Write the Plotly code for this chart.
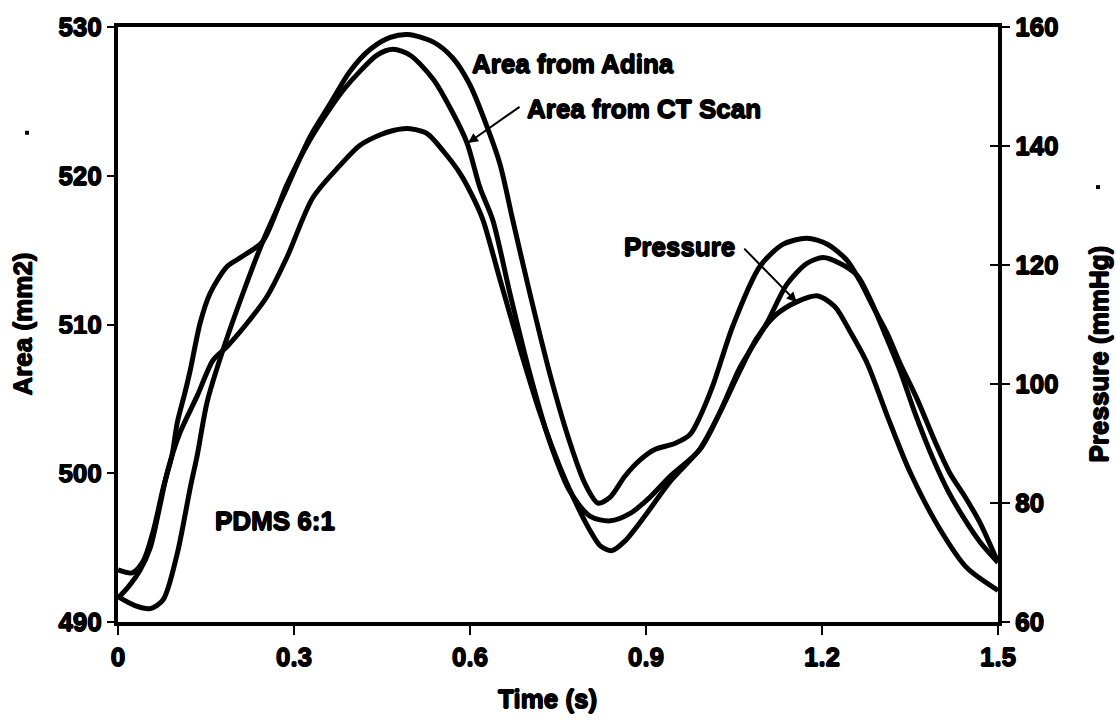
import plotly.graph_objects as go

# Time axis (s) and area curves (mm2)
adina_t = [0, 0.029, 0.055, 0.077, 0.101, 0.123, 0.135, 0.152, 0.179, 0.213, 0.247, 0.288,
           0.327, 0.361, 0.395, 0.43, 0.464, 0.494, 0.537, 0.571, 0.6, 0.629, 0.651, 0.673,
           0.702, 0.736, 0.77, 0.796, 0.818, 0.839, 0.864, 0.89, 0.915, 0.949, 0.975, 0.992,
           1.014, 1.048, 1.094, 1.134, 1.174, 1.209, 1.243, 1.265, 1.287, 1.311, 1.333, 1.362,
           1.393, 1.418, 1.444, 1.469, 1.5]
adina_area = [491.7, 491.1, 490.9, 491.5, 494.6, 499.0, 501.2, 504.8, 508.3, 512.1, 515.6, 519.2,
              522.6, 524.8, 527.0, 528.5, 529.3, 529.5, 529.0, 527.9, 526.1, 523.3, 520.8, 517.0,
              512.1, 506.7, 502.1, 499.3, 498.0, 498.4, 499.8, 500.9, 501.6, 502.0, 502.6, 503.8,
              505.9, 509.9, 513.9, 515.4, 515.8, 515.4, 514.3, 512.9, 511.2, 509.4, 507.4, 505.0,
              502.1, 500.0, 498.4, 496.7, 494.0]

ct_t = [0, 0.024, 0.043, 0.06, 0.077, 0.092, 0.101, 0.114, 0.123, 0.14, 0.157, 0.186, 0.213,
        0.247, 0.288, 0.327, 0.361, 0.387, 0.412, 0.441, 0.469, 0.498, 0.537, 0.571, 0.595,
        0.617, 0.639, 0.668, 0.702, 0.736, 0.77, 0.805, 0.839, 0.873, 0.907, 0.941, 0.992,
        1.026, 1.06, 1.106, 1.14, 1.174, 1.202, 1.231, 1.26, 1.282, 1.307, 1.333, 1.358,
        1.389, 1.415, 1.44, 1.469, 1.5]
ct_area = [493.5, 493.3, 494.1, 496.1, 499.0, 501.2, 503.4, 505.4, 506.9, 510.1, 512.1, 513.9, 514.6,
           515.6, 519.4, 522.4, 524.5, 525.9, 527.0, 528.1, 528.5, 528.1, 526.5, 524.2, 522.2,
           519.2, 517.0, 512.1, 506.7, 502.1, 498.8, 497.1, 496.8, 497.3, 498.4, 499.8, 501.6,
           504.1, 507.1, 510.1, 512.7, 514.1, 514.5, 514.1, 513.3, 511.7, 509.4, 506.9, 504.1,
           501.0, 498.8, 497.1, 495.4, 494.0]

# Pressure (mmHg)
pressure_t = [0, 0.02, 0.0375, 0.055, 0.072, 0.084, 0.106, 0.135, 0.162, 0.186, 0.22, 0.254,
              0.288, 0.332, 0.378, 0.412, 0.447, 0.469, 0.486, 0.498, 0.527, 0.554, 0.583,
              0.605, 0.622, 0.651, 0.685, 0.719, 0.753, 0.779, 0.805, 0.822, 0.842, 0.864,
              0.898, 0.941, 0.992, 1.026, 1.06, 1.089, 1.12, 1.157, 1.193, 1.222, 1.248, 1.277,
              1.311, 1.35, 1.401, 1.447, 1.5]
pressure_mmhg = [64.0, 66.2, 68.7, 72.5, 79.8, 85.2, 91.9, 98.0, 104.0, 106.3, 110.2, 114.7,
                 121.3, 131.3, 136.7, 140.1, 141.9, 142.6, 142.9, 142.9, 142.1, 139.2, 135.4,
                 131.4, 127.6, 117.6, 106.0, 95.2, 86.1, 80.3, 75.3, 72.8, 72.0, 73.6,
                 77.8, 83.6, 89.1, 95.2, 102.2, 107.7, 111.5, 113.8, 114.8, 113.0, 108.8, 103.5,
                 94.7, 85.2, 75.6, 69.1, 65.3]

time_ticks = [0, 0.3, 0.6, 0.9, 1.2, 1.5]
time_labels = ["0", "0.3", "0.6", "0.9", "1.2", "1.5"]
area_ticks = [490, 500, 510, 520, 530]
pressure_ticks = [60, 80, 100, 120, 140, 160]

FONT = "Liberation Sans, Arial, sans-serif"
HEAVY = "0.7px 0 0 black, -0.7px 0 0 black, 0 0.7px 0 black, 0 -0.7px 0 black"
LINE = dict(color="black", width=5, shape="spline", smoothing=0.8)

fig = go.Figure()
fig.add_trace(go.Scatter(x=adina_t, y=adina_area, mode="lines", line=LINE,
                         name="Area from Adina", yaxis="y"))
fig.add_trace(go.Scatter(x=ct_t, y=ct_area, mode="lines", line=LINE,
                         name="Area from CT Scan", yaxis="y"))
fig.add_trace(go.Scatter(x=pressure_t, y=pressure_mmhg, mode="lines", line=LINE,
                         name="Pressure", yaxis="y2"))
# empty trace carrying the inner half of the right-hand tick marks
fig.add_trace(go.Scatter(x=[], y=[], yaxis="y3", showlegend=False, hoverinfo="skip"))

tickfont = dict(family=FONT, size=26, color="black", weight="bold", shadow=HEAVY)
labelfont = dict(family=FONT, size=26, color="black", weight="bold", shadow=HEAVY)

fig.update_layout(
    width=1116, height=724,
    margin=dict(l=118, r=118, t=20, b=102),
    paper_bgcolor="white", plot_bgcolor="white",
    showlegend=False,
    xaxis=dict(range=[0, 1.5], tickvals=time_ticks, ticktext=time_labels,
               ticks="outside", ticklen=9, tickwidth=2, tickcolor="black",
               showline=True, linewidth=4, linecolor="black", mirror=True,
               showgrid=False, zeroline=False, tickfont=tickfont),
    yaxis=dict(range=[490, 530], tickvals=area_ticks,
               ticks="outside", ticklen=7, tickwidth=2, tickcolor="black",
               showline=True, linewidth=4, linecolor="black",
               showgrid=False, zeroline=False, tickfont=tickfont),
    yaxis2=dict(range=[60, 160], tickvals=pressure_ticks, overlaying="y", side="right",
                ticks="outside", ticklen=8, tickwidth=2, tickcolor="black",
                showline=True, linewidth=4, linecolor="black",
                showgrid=False, zeroline=False, tickfont=tickfont),
    yaxis3=dict(range=[60, 160], tickvals=pressure_ticks, overlaying="y", side="right",
                ticks="inside", ticklen=8, tickwidth=2, tickcolor="black",
                showticklabels=False, showline=False, showgrid=False, zeroline=False),
)

annotations = [
    dict(text="Time (s)", x=0.4875, y=-0.13, xref="paper", yref="paper",
         xanchor="center", yanchor="middle", showarrow=False, font=labelfont),
    dict(text="Area (mm2)", x=-0.109, y=0.5, xref="paper", yref="paper", textangle=-90,
         xanchor="center", yanchor="middle", showarrow=False, font=labelfont),
    dict(text="Pressure (mmHg)", x=1.115, y=0.45, xref="paper", yref="paper", textangle=-90,
         xanchor="center", yanchor="middle", showarrow=False, font=labelfont),
    dict(text="Area from Adina", x=0.6, y=527.5, xref="x", yref="y",
         xanchor="left", yanchor="middle", showarrow=False, font=labelfont),
    dict(text="Area from CT Scan", x=0.694, y=524.5, xref="x", yref="y",
         xanchor="left", yanchor="middle", showarrow=False, font=labelfont),
    dict(text="Pressure", x=0.859, y=515.2, xref="x", yref="y",
         xanchor="left", yanchor="middle", showarrow=False, font=labelfont),
    dict(text="PDMS 6:1", x=0.162, y=496.8, xref="x", yref="y",
         xanchor="left", yanchor="middle", showarrow=False, font=labelfont),
    # pointer lines
    dict(text="", x=0.5966, y=522.2, ax=0.687, ay=524.7, xref="x", yref="y",
         axref="x", ayref="y", showarrow=True, arrowhead=2, arrowsize=1,
         arrowwidth=2, arrowcolor="black"),
    dict(text="", x=1.157, y=511.5, ax=1.065, ay=515.2, xref="x", yref="y",
         axref="x", ayref="y", showarrow=True, arrowhead=2, arrowsize=1,
         arrowwidth=2, arrowcolor="black"),
]
fig.update_layout(annotations=annotations)

# two small stray marks beside the axis titles
for cx, cy in [(27, 127), (1098, 182)]:
    fig.add_shape(type="rect", xref="paper", yref="paper",
                  x0=(cx - 2 - 118) / 880, x1=(cx + 2 - 118) / 880,
                  y0=(622 - cy - 2) / 602, y1=(622 - cy + 2) / 602,
                  fillcolor="black", line=dict(width=0))

fig.write_html("out.html")
